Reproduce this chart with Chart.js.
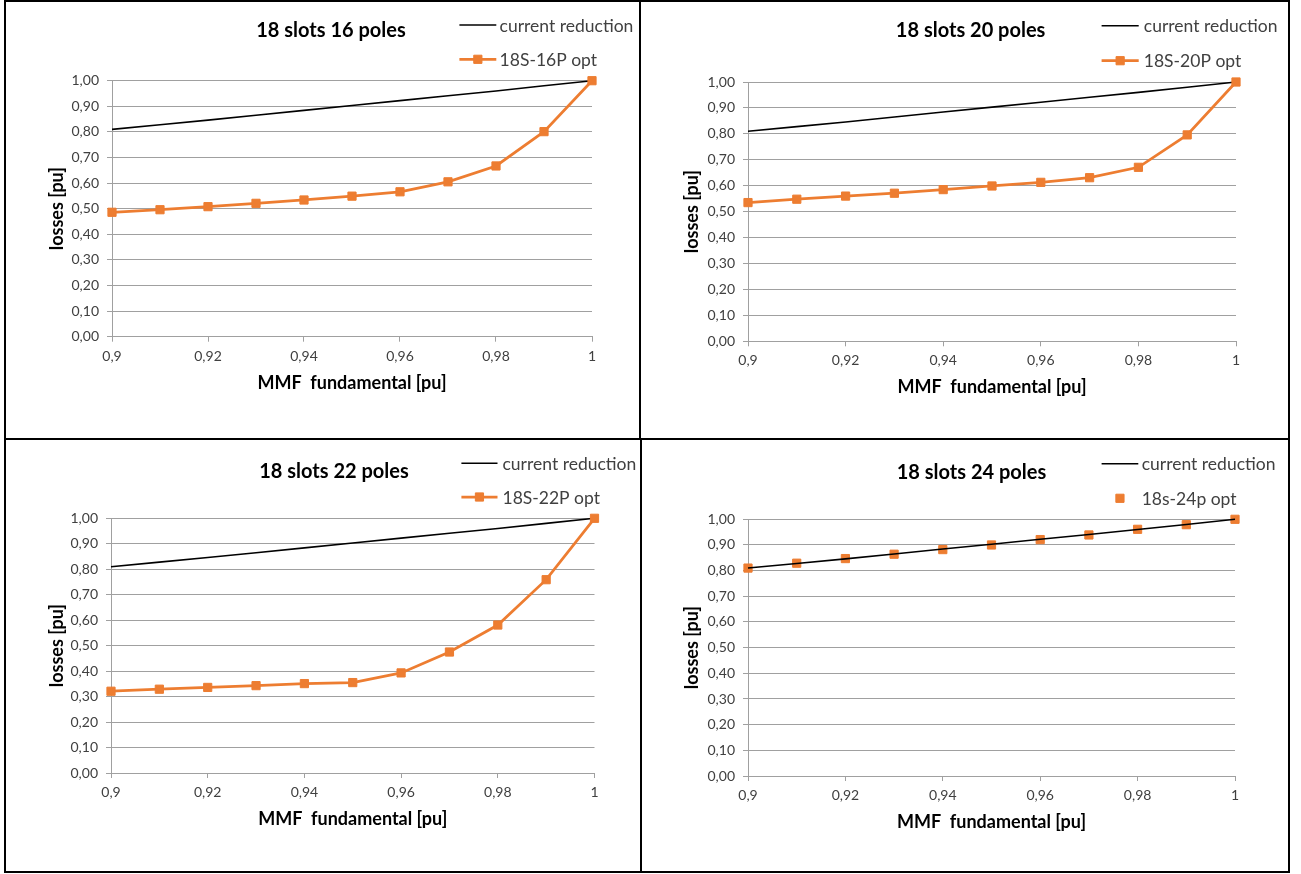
<!DOCTYPE html>
<html lang="en">
<head>
<meta charset="UTF-8">
<title>Losses vs MMF fundamental</title>
<style>
  body { margin: 0; background: #fff; }
  .sheet { position: relative; width: 1301px; height: 874px; }
  .frame { position: absolute; left: 4px; top: 0; width: 1286px; height: 873px; border: 2px solid #000; box-sizing: border-box; }
  .rule { position: absolute; background: #000; }
  .panel { position: absolute; }
</style>
</head>
<body>
<div class="sheet">
  <div class="frame"></div>
  <div class="rule" style="left:639px;top:0;width:2px;height:440px"></div>
  <div class="rule" style="left:640px;top:439px;width:2px;height:434px"></div>
  <div class="rule" style="left:4px;top:438px;width:1286px;height:2px"></div>
  <div class="panel" style="left:7px;top:2px;width:632px;height:436px"><canvas id="c16"></canvas></div>
  <div class="panel" style="left:642px;top:2px;width:645px;height:436px"><canvas id="c20"></canvas></div>
  <div class="panel" style="left:7px;top:441px;width:632px;height:429px"><canvas id="c22"></canvas></div>
  <div class="panel" style="left:642px;top:441px;width:645px;height:429px"><canvas id="c24"></canvas></div>
</div>

<script src="https://cdn.jsdelivr.net/npm/chart.js@4.4.1/dist/chart.umd.min.js"></script>
<script>
// MMF fundamental [pu] (x) and losses [pu]
const mmf = [0.90, 0.91, 0.92, 0.93, 0.94, 0.95, 0.96, 0.97, 0.98, 0.99, 1.00];
const currentReduction = [0.810, 0.828, 0.846, 0.865, 0.884, 0.903, 0.922, 0.941, 0.960, 0.980, 1.000];
const opt16 = [0.486, 0.496, 0.508, 0.521, 0.534, 0.549, 0.566, 0.605, 0.667, 0.801, 1.000];
const opt20 = [0.535, 0.548, 0.560, 0.571, 0.585, 0.599, 0.613, 0.631, 0.671, 0.796, 1.000];
const opt22 = [0.321, 0.329, 0.336, 0.343, 0.351, 0.355, 0.393, 0.475, 0.581, 0.759, 1.000];
const opt24 = [0.810, 0.829, 0.847, 0.864, 0.882, 0.900, 0.921, 0.939, 0.961, 0.979, 1.000];

const titles = ['18 slots 16 poles', '18 slots 20 poles', '18 slots 22 poles', '18 slots 24 poles'];
const optLabels = ['18S-16P opt', '18S-20P opt', '18S-22P opt', '18s-24p opt'];
const refLabel = 'current reduction';
const xTitle = 'MMF  fundamental [pu]';
const yTitle = 'losses [pu]';

const ORANGE = '#ED7D31';
const GRID = '#a0a0a0';
const TICK = '#404040';

Chart.defaults.font.family = 'Lato';

// title + legend drawn in the upper part of each panel
const panelHeader = {
    id: 'panelHeader',
    afterDraw(chart, args, o) {
        const ctx = chart.ctx;
        ctx.save();
        ctx.font = 'bold 20px Lato';
        ctx.fillStyle = '#000';
        ctx.textAlign = 'center';
        ctx.textBaseline = 'middle';
        ctx.fillText(o.title, o.titleX, o.titleY);

        ctx.font = '17.5px Lato';
        ctx.textAlign = 'left';
        o.rows.forEach(row => {
            const ds = chart.data.datasets[row.ds];
            ctx.strokeStyle = ds.borderColor;
            ctx.fillStyle = ds.backgroundColor || ds.borderColor;
            if (ds.showLine) {
                ctx.lineWidth = ds.borderWidth;
                ctx.beginPath();
                ctx.moveTo(o.x1, row.y);
                ctx.lineTo(o.x2, row.y);
                ctx.stroke();
            }
            if (ds.pointRadius > 0) {
                ctx.lineWidth = ds.pointBorderWidth;
                Chart.helpers.drawPoint(ctx, {
                    pointStyle: 'rect', rotation: 0,
                    radius: ds.pointRadius, borderWidth: ds.pointBorderWidth
                }, (o.x1 + o.x2) / 2, row.y);
            }
            ctx.fillStyle = '#404040';
            ctx.fillText(ds.label, o.textX, row.y + 1);
        });
        ctx.restore();
    }
};

function pts(values) {
    return mmf.map((x, i) => ({ x: x, y: values[i] }));
}

function makeChart(id, values, label, title, geo, optLine, refOnTop) {
    const padLeft = 39;
    return new Chart(document.getElementById(id), {
        type: 'scatter',
        data: {
            datasets: [
                {
                    label: label,
                    data: pts(values),
                    borderColor: ORANGE,
                    backgroundColor: ORANGE,
                    borderWidth: 2.75,
                    showLine: optLine,
                    pointStyle: 'rect',
                    pointRadius: 5.8,
                    pointBorderWidth: 1,
                    clip: false,
                    order: refOnTop ? 2 : 0
                },
                {
                    label: refLabel,
                    data: pts(currentReduction),
                    borderColor: '#000',
                    backgroundColor: '#000',
                    borderWidth: 1.6,
                    showLine: true,
                    pointRadius: 0,
                    clip: false,
                    order: 1
                }
            ]
        },
        options: {
            responsive: true,
            maintainAspectRatio: false,
            animation: false,
            layout: {
                padding: { left: padLeft, right: geo.padRight, top: geo.top, bottom: geo.padBottom }
            },
            scales: {
                x: {
                    type: 'linear',
                    min: 0.9,
                    max: 1,
                    ticks: {
                        stepSize: 0.02,
                        color: TICK,
                        font: { size: 14 },
                        padding: 6,
                        maxRotation: 0,
                        callback: v => String(+v.toFixed(2)).replace('.', ',')
                    },
                    grid: { drawOnChartArea: false, drawTicks: true, tickLength: 5, color: GRID },
                    border: { display: true, color: GRID },
                    title: {
                        display: true, text: xTitle, color: '#000', padding: 0,
                        font: { size: 18, weight: 'bold' }
                    },
                    afterFit: s => { s.height = 57; }
                },
                y: {
                    min: 0,
                    max: 1,
                    ticks: {
                        stepSize: 0.1,
                        color: TICK,
                        font: { size: 14 },
                        padding: 8,
                        callback: v => v.toFixed(2).replace('.', ',')
                    },
                    grid: { color: GRID, tickLength: 5 },
                    border: { display: true, color: GRID },
                    title: {
                        display: true, text: yTitle, color: '#000', padding: 0,
                        font: { size: 18, weight: 'bold' }
                    },
                    afterFit: s => { s.width = geo.chartLeft - padLeft; }
                }
            },
            plugins: {
                legend: { display: false },
                tooltip: { enabled: false },
                panelHeader: {
                    title: title,
                    titleX: geo.titleX,
                    titleY: geo.titleY,
                    x1: geo.legX1,
                    x2: geo.legX2,
                    textX: geo.legText,
                    rows: [{ ds: 1, y: geo.legY1 }, { ds: 0, y: geo.legY2 }]
                }
            }
        },
        plugins: [panelHeader]
    });
}

makeChart('c16', opt16, optLabels[0], titles[0],
    { chartLeft: 105, padRight: 47, top: 78.7, padBottom: 44.3,
      titleX: 324, titleY: 28.7, legX1: 452.4, legX2: 489.3, legText: 492.6, legY1: 23, legY2: 57.3 },
    true, false);

makeChart('c20', opt20, optLabels[1], titles[1],
    { chartLeft: 106, padRight: 51, top: 80, padBottom: 39.7,
      titleX: 328.6, titleY: 28.7, legX1: 459.6, legX2: 496.7, legText: 501.8, legY1: 23.7, legY2: 58.7 },
    true, false);

makeChart('c22', opt22, optLabels[2], titles[2],
    { chartLeft: 104, padRight: 44.5, top: 77.3, padBottom: 40,
      titleX: 327, titleY: 31, legX1: 454.4, legX2: 490.5, legText: 495.5, legY1: 22.3, legY2: 56 },
    true, false);

makeChart('c24', opt24, optLabels[3], titles[3],
    { chartLeft: 106, padRight: 52, top: 78.3, padBottom: 37,
      titleX: 329.5, titleY: 31.7, legX1: 459.6, legX2: 496.3, legText: 499.7, legY1: 22.7, legY2: 57.3 },
    false, true);
</script>
</body>
</html>
